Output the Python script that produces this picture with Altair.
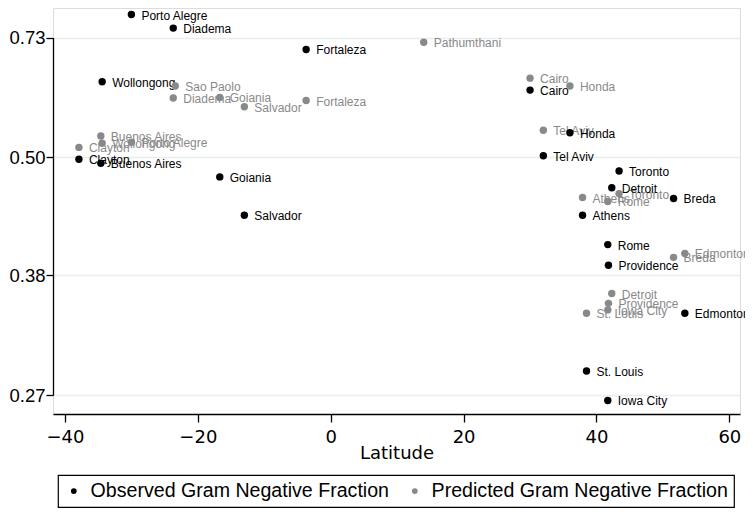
import altair as alt
import pandas as pd

cities = ["Porto Alegre", "Diadema", "Fortaleza", "Wollongong", "Cairo", "Honda",
          "Tel Aviv", "Clayton", "Buenos Aires", "Toronto", "Goiania", "Detroit",
          "Breda", "Athens", "Salvador", "Rome", "Providence", "Edmonton",
          "St. Louis", "Iowa City", "Pathumthani", "Sao Paolo"]
latitude = [-30.0, -23.7, -3.7, -34.4, 30.0, 36.0,
            32.0, -37.9, -34.6, 43.4, -16.7, 42.3,
            51.6, 37.9, -13.0, 41.7, 41.8, 53.3,
            38.5, 41.7, 14.0, -23.4]
observed = [0.774, 0.748, 0.707, 0.645, 0.629, 0.547,
            0.503, 0.498, 0.494, 0.486, 0.480, 0.469,
            0.458, 0.441, 0.441, 0.411, 0.390, 0.345,
            0.292, 0.265, None, None]
predicted = [0.529, 0.614, 0.609, 0.527, 0.652, 0.637,
             0.552, 0.519, 0.541, 0.463, 0.615, 0.363,
             0.398, 0.459, 0.597, 0.455, 0.354, 0.402,
             0.345, 0.348, 0.721, 0.637]

y_ticks = [0.27, 0.38, 0.50, 0.73]
x_ticks = [-40, -20, 0, 20, 40, 60]

OBS = "Observed Gram Negative Fraction"
PRED = "Predicted Gram Negative Fraction"
GRAY = "#898989"

rows = []
for c, la, p in zip(cities, latitude, predicted):
    if p is not None:
        rows.append({"city": c, "lat": la, "frac": p, "series": PRED})
for c, la, o in zip(cities, latitude, observed):
    if o is not None:
        rows.append({"city": c, "lat": la, "frac": o, "series": OBS})
df = pd.DataFrame(rows)

W, H = 687, 406

xs = alt.X("lat:Q",
           scale=alt.Scale(domain=[-41.8, 61.6], nice=False, zero=False),
           axis=alt.Axis(values=x_ticks, title="Latitude", grid=False,
                         labelFont="DejaVu Sans", labelFontSize=18, labelColor="black",
                         labelPadding=6, tickSize=8, tickColor="black", tickWidth=1.3,
                         domainColor="black", domainWidth=1.3,
                         titleFont="DejaVu Sans", titleFontSize=18, titleFontWeight="normal",
                         titleColor="black", titleBaseline="alphabetic", titleY=44))
ys = alt.Y("frac:Q",
           scale=alt.Scale(domain=y_ticks, range=[387, 267, 149.3, 29.5], nice=False, zero=False),
           axis=alt.Axis(values=y_ticks, format=".2f", title=None,
                         labelFont="Liberation Sans", labelFontSize=18.5, labelColor="black",
                         labelPadding=1, tickSize=7, tickColor="black", tickWidth=1.3,
                         domainColor="black", domainWidth=1.3,
                         grid=True, gridColor="#e6eeee", gridWidth=1.5))

base = alt.Chart(df)

text_pred = base.transform_filter(alt.datum.series == PRED).mark_text(
    align="left", baseline="middle", dx=10, dy=1, font="Liberation Sans", fontSize=12,
    color=GRAY).encode(x=xs, y=ys, text="city:N")
text_obs = base.transform_filter(alt.datum.series == OBS).mark_text(
    align="left", baseline="middle", dx=10, dy=1, font="Liberation Sans", fontSize=12,
    color="black").encode(x=xs, y=ys, text="city:N")

points = base.mark_point(filled=True, size=55, opacity=1, shape="circle").encode(
    x=xs, y=ys,
    color=alt.Color("series:N",
                    scale=alt.Scale(domain=[OBS, PRED], range=["black", GRAY]),
                    legend=alt.Legend(orient="none", legendX=5, legendY=467,
                                      direction="horizontal", title=None,
                                      strokeColor="black",
                                      fillColor="white", padding=6,
                                      symbolType="circle", symbolSize=33,
                                      symbolStrokeWidth=0,
                                      labelFont="Liberation Sans", labelFontSize=19.6,
                                      labelColor="black", labelLimit=500,
                                      labelOffset=7, columnPadding=16)),
)

chart = alt.layer(text_pred, text_obs, points).properties(
    width=W, height=H,
    autosize=alt.AutoSizeParams(type="none"),
    padding={"left": 45, "top": 0, "right": 5, "bottom": 95},
).configure_view(strokeWidth=0).configure(background="white").configure_legend(strokeWidth=1.2)

chart.save("out.html", embed_options={"renderer": "svg", "actions": False})
